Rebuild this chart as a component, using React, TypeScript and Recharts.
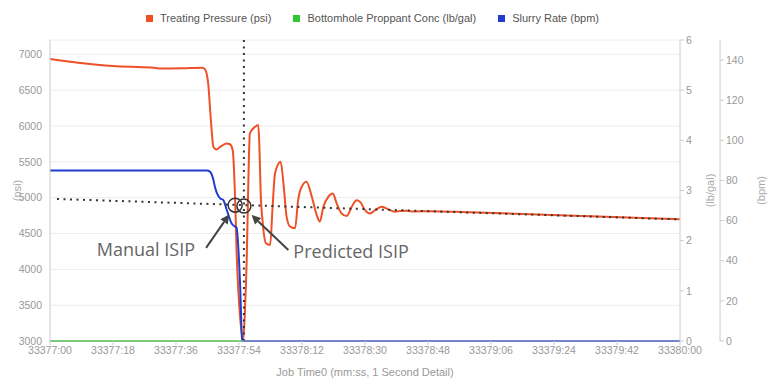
import React from 'react'
import {
  LineChart,
  Line,
  XAxis,
  YAxis,
  CartesianGrid,
  Legend,
  ReferenceLine,
  ReferenceDot
} from 'recharts'

// seconds after 33377:00
const pressureTimes = [
  0, 8, 18, 29, 32, 38, 43.5, 44.3, 45.2, 45.9, 46.7, 47.6, 48.6, 50.5, 51.4,
  52.2, 52.9, 53.3, 54.3, 55.2, 55.7, 56.2, 56.7, 57.1, 58.6, 59.5, 59.8, 60.2,
  60.8, 61.7, 62.9, 63.6, 64.3, 65.9, 66.7, 67.6, 68.6, 70, 70.9, 71.9, 73.3,
  74.8, 76.2, 77.1, 78.1, 79.5, 80.8, 81.9, 83.3, 84.8, 86.2, 87.6, 88.6, 90,
  91.4, 93, 94.8, 96.5, 98.6, 100, 101.9, 104, 108.6, 120, 135, 150, 165, 180
]
const pressureValues = [
  6935, 6884, 6837, 6815, 6801, 6805, 6812, 6790, 6590, 6126, 5708, 5672, 5708,
  5755, 5745, 5662, 4965, 4268, 3339, 3010, 3430, 4130, 5292, 5898, 5990, 6014,
  5758, 5060, 4640, 4363, 4340, 4874, 5340, 5502, 5200, 4735, 4595, 4572, 4967,
  5153, 5223, 5013, 4758, 4668, 4872, 5011, 5058, 4920, 4780, 4745, 4872, 4965,
  4941, 4826, 4780, 4830, 4872, 4840, 4803, 4815, 4816, 4808, 4812, 4795, 4772,
  4748, 4722, 4700
]

const rateTimes = [0, 44.8, 45.7, 46.7, 47.1, 48.6, 49.5, 50.5, 51.9, 52.9, 53.3, 54.3, 54.9, 55.2, 180]
const rateValues = [85, 85, 84.4, 80.2, 77, 71.1, 70.3, 65.3, 58.6, 57, 56.5, 29, 0.5, 0, 0]

const concTimes = [0, 180]
const concValues = [0, 0]

const trendTimes = [2, 180]
const trendValues = [4982, 4696]

const seriesOrder = ['Treating Pressure (psi)', 'Bottomhole Proppant Conc (lb/gal)', 'Slurry Rate (bpm)']

const xTicks = [0, 18, 36, 54, 72, 90, 108, 126, 144, 162, 180]
const psiTicks = [3000, 3500, 4000, 4500, 5000, 5500, 6000, 6500, 7000]
const concTicks = [0, 1, 2, 3, 4, 5, 6]
const rateTicks = [0, 20, 40, 60, 80, 100, 120, 140]

const shutInTime = 55.4
const manualIsip = { t: 52.9, psi: 4895 }
const predictedIsip = { t: 55.4, psi: 4882 }
const manualArrow = [{ t: 44.6, psi: 4300 }, { t: 51.2, psi: 4765 }]
const predictedArrow = [{ t: 68.1, psi: 4270 }, { t: 57.6, psi: 4758 }]

const pressureData = pressureTimes.map((t, i) => ({ t, psi: pressureValues[i] }))
const rateData = rateTimes.map((t, i) => ({ t, bpm: rateValues[i] }))
const concData = concTimes.map((t, i) => ({ t, conc: concValues[i] }))
const trendData = trendTimes.map((t, i) => ({ t, trend: trendValues[i] }))

const FONT = '"Liberation Sans", Arial, sans-serif'
const tickStyle = { fontSize: 10.5, fill: '#999', fontFamily: FONT }

const fmtTime = (t: number) => {
  const total = 33377 * 60 + t
  const mm = Math.floor(total / 60)
  const ss = Math.round(total - mm * 60)
  return `${mm}:${ss < 10 ? '0' + ss : ss}`
}

const arrowShape = (text: string, side: 'left' | 'right') => (props: any) => {
  const { x1, y1, x2, y2 } = props
  const a = Math.atan2(y2 - y1, x2 - x1)
  const c = Math.cos(a)
  const s = Math.sin(a)
  const bx = x2 - 9 * c
  const by = y2 - 9 * s
  const pts = `${x2},${y2} ${bx - 4.5 * s},${by + 4.5 * c} ${bx + 4.5 * s},${by - 4.5 * c}`
  return (
    <g>
      <line x1={x1} y1={y1} x2={bx} y2={by} stroke='#444' strokeWidth={2} />
      <polygon points={pts} fill='#444' />
      <text
        x={side === 'left' ? x1 - 11 : x1 + 5}
        y={y1 + 8}
        textAnchor={side === 'left' ? 'end' : 'start'}
        fontSize={18}
        fill='#666'
        fontFamily='"Open Sans", sans-serif'
      >
        {text}
      </text>
    </g>
  )
}

const renderLegend = (props: any) => {
  const items = (props.payload || [])
    .filter((p: any) => p.type !== 'none')
    .sort((a: any, b: any) => seriesOrder.indexOf(a.value) - seriesOrder.indexOf(b.value))
  return (
    <div
      style={{
        display: 'flex',
        justifyContent: 'center',
        alignItems: 'center',
        height: 20,
        paddingRight: 30,
        fontFamily: FONT,
        fontSize: 11,
        color: '#555'
      }}
    >
      {items.map((p: any) => (
        <div key={p.value} style={{ display: 'flex', alignItems: 'center', margin: '0 11px' }}>
          <span style={{ width: 7, height: 7, background: p.color, marginRight: 7 }} />
          <span>{p.value}</span>
        </div>
      ))}
    </div>
  )
}

export default function App() {
  return (
    <div style={{ position: 'absolute', left: 0, top: 0, background: '#fff' }}>
      <LineChart
        width={775}
        height={388}
        margin={{ top: 20, right: 0, bottom: 0, left: 0 }}
        style={{ fontFamily: FONT }}
      >
        <CartesianGrid yAxisId='psi' vertical={false} stroke='#ececec' />
        <XAxis
          dataKey='t'
          type='number'
          domain={[0, 180]}
          ticks={xTicks}
          tickFormatter={fmtTime}
          height={47}
          tick={tickStyle}
          tickSize={4}
          tickMargin={2}
          stroke='#ccc'
          allowDuplicatedCategory={false}
          label={{
            value: 'Job Time0 (mm:ss, 1 Second Detail)',
            position: 'insideBottom',
            offset: 12,
            fontSize: 11,
            fill: '#999',
            fontFamily: FONT
          }}
        />
        <YAxis
          yAxisId='psi'
          domain={[3000, 7200]}
          ticks={psiTicks}
          width={50}
          tick={tickStyle}
          tickLine={false}
          stroke='#ccc'
          label={{ value: '(psi)', angle: -90, position: 'center', dx: -8, fontSize: 11, fill: '#aaa' }}
        />
        <YAxis
          yAxisId='r1conc'
          orientation='right'
          domain={[0, 6]}
          ticks={concTicks}
          width={40}
          tick={tickStyle}
          tickSize={4}
          stroke='#ccc'
          label={{ value: '(lb/gal)', angle: -90, position: 'center', dx: 10, fontSize: 11, fill: '#aaa' }}
        />
        <YAxis
          yAxisId='r2bpm'
          orientation='right'
          domain={[0, 150]}
          ticks={rateTicks}
          width={55}
          tick={tickStyle}
          tickSize={4}
          stroke='#ccc'
          label={{ value: '(bpm)', angle: -90, position: 'center', dx: 14, fontSize: 11, fill: '#aaa' }}
        />
        <Legend verticalAlign='top' content={renderLegend} wrapperStyle={{ top: 8, left: 0, width: 775 }} />
        <Line
          yAxisId='psi'
          data={pressureData}
          dataKey='psi'
          name='Treating Pressure (psi)'
          type='monotone'
          stroke='#ee5028'
          strokeWidth={2}
          dot={false}
          isAnimationActive={false}
        />
        <Line
          yAxisId='r1conc'
          data={concData}
          dataKey='conc'
          name='Bottomhole Proppant Conc (lb/gal)'
          type='linear'
          stroke='#2ec82e'
          strokeWidth={2}
          dot={false}
          isAnimationActive={false}
        />
        <Line
          yAxisId='r2bpm'
          data={rateData}
          dataKey='bpm'
          name='Slurry Rate (bpm)'
          type='monotone'
          stroke='#1f3dcf'
          strokeWidth={2}
          dot={false}
          isAnimationActive={false}
        />
        <Line
          yAxisId='psi'
          data={trendData}
          dataKey='trend'
          name='trend'
          legendType='none'
          type='linear'
          stroke='#333'
          strokeWidth={2}
          strokeDasharray='2 4.5'
          dot={false}
          isAnimationActive={false}
        />
        <ReferenceLine
          yAxisId='psi'
          x={shutInTime}
          stroke='#333'
          strokeWidth={2}
          strokeDasharray='2 4.5'
        />
        <ReferenceDot
          yAxisId='psi'
          x={manualIsip.t}
          y={manualIsip.psi}
          r={7}
          fill='none'
          stroke='#333'
          strokeWidth={1.5}
        />
        <ReferenceDot
          yAxisId='psi'
          x={predictedIsip.t}
          y={predictedIsip.psi}
          r={7}
          fill='none'
          stroke='#333'
          strokeWidth={1.5}
        />
        <ReferenceLine
          yAxisId='psi'
          segment={manualArrow.map((p) => ({ x: p.t, y: p.psi }))}
          shape={arrowShape('Manual ISIP', 'left')}
        />
        <ReferenceLine
          yAxisId='psi'
          segment={predictedArrow.map((p) => ({ x: p.t, y: p.psi }))}
          shape={arrowShape('Predicted ISIP', 'right')}
        />
      </LineChart>
    </div>
  )
}
